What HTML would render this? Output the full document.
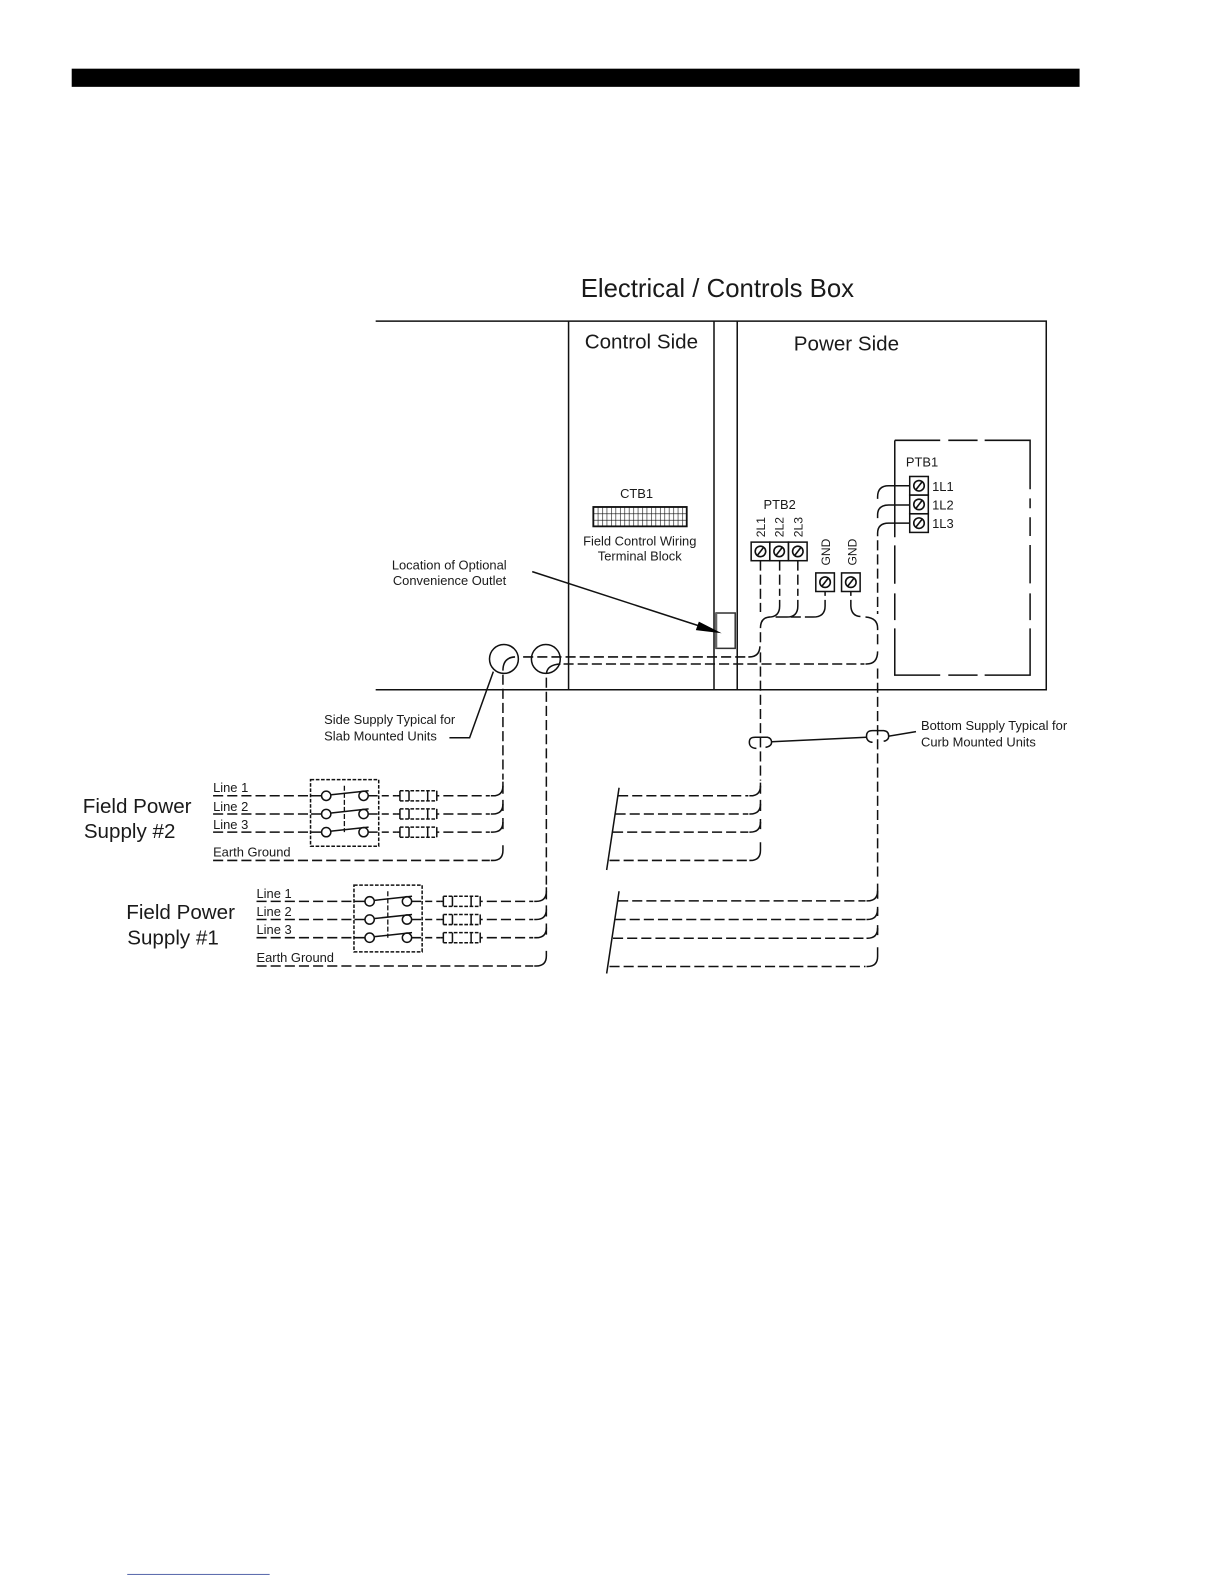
<!DOCTYPE html>
<html><head><meta charset="utf-8"><style>
html,body{margin:0;padding:0;background:#fff}
svg{display:block}
text{font-family:"Liberation Sans",sans-serif;fill:#1a1a1a}
.s{fill:none;stroke:#111;stroke-width:1.5}
.d{fill:none;stroke:#111;stroke-width:1.5;stroke-dasharray:10 4}
.f{fill:none;stroke:#111;stroke-width:1.5;stroke-dasharray:3.6 1.6}
.t{font-size:12.8px}.r{font-size:12px}.m{font-size:20.4px}
</style></head><body>
<svg width="1224" height="1584" viewBox="0 0 1224 1584" xmlns="http://www.w3.org/2000/svg">
<defs>
<pattern id="g" x="587.5" y="502" width="4.4" height="6.4" patternUnits="userSpaceOnUse">
<path d="M0 0V6.4M0 0H4.4" stroke="#111" stroke-width="1.2" fill="none"/>
</pattern>
<g id="term"><rect x="-9.2" y="-9.2" width="18.4" height="18.4" fill="#fff" stroke="#111" stroke-width="1.5"/><circle r="5.2" fill="none" stroke="#111" stroke-width="1.6"/><path d="M-3.500 4.500L3.500 -4.500" stroke="#111" stroke-width="1.6"/></g>
<g id="fuse"><path class="f" d="M396 -5H432.500M396 5H432.500"/><path class="s" d="M396 -5V5M405 -5V5M423.500 -5V5M432.500 -5V5M393 0H396M432.500 0H435"/></g>
<g id="sup">
<rect class="f" x="307.500" y="772" width="67.500" height="66"/>
<path d="M341 778V824" fill="none" stroke="#111" stroke-width="1.300" stroke-dasharray="5 2"/>
<path class="d" d="M211 788H306M211 806H306M211 824H306"/>
<path class="s" d="M308 788H318M308 806H318M308 824H318"/>
<circle class="s" cx="323" cy="788" r="4.600"/><circle class="s" cx="323" cy="806" r="4.600"/><circle class="s" cx="323" cy="824" r="4.600"/>
<circle class="s" cx="360" cy="788" r="4.600"/><circle class="s" cx="360" cy="806" r="4.600"/><circle class="s" cx="360" cy="824" r="4.600"/>
<path class="s" d="M328 787L365 783M328 805L365 801M328 823L365 819"/>
<path class="s" d="M365 788H374M365 806H374M365 824H374"/>
<path class="s" d="M378 788H385M378 806H385M378 824H385M389 788H393M389 806H393M389 824H393"/>
<use href="#fuse" y="788"/><use href="#fuse" y="806"/><use href="#fuse" y="824"/>
<path class="d" d="M439 788H485M439 806H485M439 824H485M211 852H485"/>
<path class="s" d="M486 788H488Q498 788 498 778V774M486 806H488Q498 806 498 796V792M486 824H488Q498 824 498 814V810M486 852H488Q498 852 498 842V837"/>
<path class="s" d="M498 778V786M498 796V803M498 814V821"/>
</g>
</defs>
<rect width="1224" height="1584" fill="#fff"/>
<g transform="scale(1.0099)">
<rect x="71" y="68" width="998" height="18" fill="#000"/>
<rect x="126" y="1558.500" width="141" height="1" fill="#5566aa"/>

<text x="575" y="294" font-size="25.500">Electrical / Controls Box</text>
<text x="579" y="345" class="m">Control Side</text>
<text x="786" y="347" class="m">Power Side</text>

<path class="s" d="M372 318H1036V683H372M563 318V683M707 318V683M730 318V683"/>

<!-- PTB1 dashed box -->
<path class="s" d="M886 436H931M939 436H968M975 436H1020V484.500M1020 493.500V503.300M1020 512.200V530.800M1020 539.700V577.700M1020 587.600V614M1020 622.200V668.500H975M968 668.500H939M931 668.500H886V622.200M886 614V587.600M886 578V540M886 532V436"/>

<!-- CTB1 -->
<text x="614" y="493" class="t">CTB1</text>
<rect x="587.500" y="502" width="92.500" height="19.200" fill="url(#g)" stroke="#111" stroke-width="1.800"/>
<text x="633.500" y="540" class="t" text-anchor="middle">Field Control Wiring</text>
<text x="633.500" y="555" class="t" text-anchor="middle">Terminal Block</text>

<!-- Outlet -->
<rect x="709" y="607" width="19" height="35" fill="#fff" stroke="#333" stroke-width="1.500"/>
<path d="M709 607V642" stroke="#666" stroke-width="2.500"/>
<path class="s" d="M527 566L693 620"/>
<path d="M714.600 627L692 615.500L689 624Z" fill="#000"/>
<text x="388" y="564" class="t">Location of Optional</text>
<text x="389" y="579.500" class="t">Convenience Outlet</text>

<!-- PTB1 wires -->
<path class="s" d="M901 481H880Q869 481 869 492V494M901 500H880Q869 500 869 510V513M901 518H880Q869 518 869 528V531"/>
<!-- 869 vertical -->
<path class="d" d="M869 535V608"/>
<path class="s" d="M857 611Q869 612 869 622V624"/>
<path class="d" d="M869 628V642"/>
<path class="d" d="M558 657.500H856"/>
<path class="s" d="M857 657.500H858Q869 657.500 869 645"/>
<path class="d" d="M869 662V871"/>
<!-- 753 vertical -->
<path class="d" d="M753 555V606"/>
<path class="s" d="M753 622Q753 611 763 611M772 594V600Q772 611 761 611"/>
<path class="d" d="M772 555V590M790 555V590"/>
<path class="s" d="M790 594V600Q790 611 779 611H768M817 594V600Q817 611 805 611H797M793 611H783"/>
<path class="s" d="M817 586V590M842.500 586V590M842.500 594V600Q843 610 852 610.500"/>
<path class="d" d="M753 626V636"/>
<path class="d" d="M518 650.500H740"/>
<path class="s" d="M741 650.500H742Q752 650.500 752.500 640"/>
<path class="d" d="M753 646V773"/>

<!-- Circles -->
<circle class="s" cx="499" cy="652.500" r="14.300"/>
<circle class="s" cx="540.500" cy="652.500" r="14.300"/>
<path class="s" d="M498 664Q498 651 510 650.500M541 667Q542 658 555 657.500"/>
<path class="d" d="M498 668V772"/>
<path class="d" d="M541 671V876"/>

<!-- Terminals -->
<use href="#term" x="753" y="546"/><use href="#term" x="771.500" y="546"/><use href="#term" x="790" y="546"/>
<use href="#term" x="817" y="576.500"/><use href="#term" x="842.500" y="576.500"/>
<use href="#term" x="910" y="481"/><use href="#term" x="910" y="499.500"/><use href="#term" x="910" y="518"/>

<text x="897" y="462" class="t">PTB1</text>
<text x="923" y="486" class="t">1L1</text>
<text x="923" y="504.500" class="t">1L2</text>
<text x="923" y="523" class="t">1L3</text>
<text x="756" y="504" class="t">PTB2</text>
<text class="r" transform="translate(757.500,532) rotate(-90)">2L1</text>
<text class="r" transform="translate(776,532) rotate(-90)">2L2</text>
<text class="r" transform="translate(794.500,532) rotate(-90)">2L3</text>
<text class="r" transform="translate(822,560) rotate(-90)">GND</text>
<text class="r" transform="translate(848,560) rotate(-90)">GND</text>

<!-- Leaders -->
<path class="s" d="M445 730.500H465L488.500 665"/>
<text x="321" y="717" class="t">Side Supply Typical for</text>
<text x="321" y="733" class="t">Slab Mounted Units</text>
<path class="s" d="M764 734.500L858 730M880 729L907 724.500"/>
<path class="s" d="M753 730H748C743 730 742 732 742 735C742 739 745 741 749 741M753 730H760Q764 731 764 735Q764 739 758 740"/>
<path class="s" d="M869 723.500H864C859 723.500 858 726 858 729C858 733 861 735 864 735M869 723.500H875Q880 724 880 729Q880 733 875 734"/>
<text x="912" y="723" class="t">Bottom Supply Typical for</text>
<text x="912" y="739" class="t">Curb Mounted Units</text>

<!-- Field supplies -->
<use href="#sup"/>
<use href="#sup" x="43" y="104.500"/>
<text x="211" y="784" class="t">Line 1</text>
<text x="211" y="803" class="t">Line 2</text>
<text x="211" y="821" class="t">Line 3</text>
<text x="211" y="848" class="t">Earth Ground</text>
<text x="254" y="889" class="t">Line 1</text>
<text x="254" y="907" class="t">Line 2</text>
<text x="254" y="925" class="t">Line 3</text>
<text x="254" y="952.500" class="t">Earth Ground</text>
<text x="82" y="805" class="m">Field Power</text>
<text x="83" y="830" class="m">Supply #2</text>
<text x="125" y="910" class="m">Field Power</text>
<text x="126" y="935" class="m">Supply #1</text>

<!-- Break lines -->
<path class="s" d="M613 780L600.700 861.500M613 882.500L600.700 964"/>
<path class="d" d="M612 788H741M609.500 806H741M607 824H741M603.500 852H741"/>
<path class="s" d="M742 788H743Q753 788 753 778V775M742 806H743Q753 806 753 796V792M742 824H743Q753 824 753 814V811M742 852H743Q753 852 753 842V834"/>
<path class="s" d="M753 778V786M753 796V803M753 814V821"/>
<path class="d" d="M612 892H857M609.500 910.500H857M607 929H857M603.500 957H857"/>
<path class="s" d="M858 892H859Q869 892 869 882V875M858 910.500H859Q869 910.500 869 900V898M858 929H859Q869 929 869 919V916M858 957H859Q869 957 869 947V938"/>
<path class="s" d="M869 882V890M869 900V907M869 919V926"/>
</g>
</svg>
</body></html>
